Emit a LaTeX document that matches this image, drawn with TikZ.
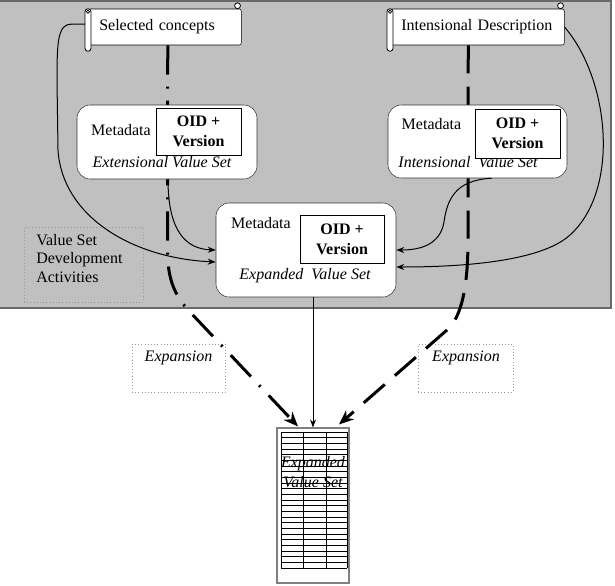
\documentclass[tikz,border=0pt]{standalone}
\usepackage{fontspec}
\setmainfont{Liberation Serif}
\usetikzlibrary{positioning, arrows.meta, calc}
\definecolor{panelgray}{RGB}{192,192,192}
\definecolor{panelline}{RGB}{105,105,105}

\begin{document}
\begin{tikzpicture}[
  x=0.75pt, y=-0.75pt,
  font=\fontsize{12}{14}\selectfont,
  scroll/.style={draw, fill=white, rounded corners=1.5pt, anchor=west,
                 minimum height=27pt, inner xsep=8.25pt, align=left},
  roll/.style={draw, fill=white, line width=0.6pt},
  mbox/.style={draw=black!80, fill=white, rounded corners=10pt,
               minimum width=135pt, minimum height=55.5pt},
  oid/.style={draw, fill=white, minimum width=63.75pt, minimum height=35.25pt,
              inner sep=0pt, align=center, font=\fontsize{12}{15}\selectfont\bfseries},
  txt/.style={inner sep=0pt},
  vsname/.style={inner sep=0pt, font=\fontsize{12}{14}\selectfont\itshape},
  note/.style={draw=gray!80, dotted, minimum width=69.75pt, minimum height=36pt},
  doc/.style={draw=gray, fill=white, line width=0.8pt,
              minimum width=54pt, minimum height=116.25pt},
  gridline/.style={line width=0.6pt},
  link/.style={-{Stealth[length=6pt, width=4.5pt]}, line width=0.75pt},
  dashdot/.style={line width=2.25pt, dash pattern=on 22pt off 9pt on 1.5pt off 9pt,
                  -{Stealth[length=11pt, width=9pt]}},
  longdash/.style={line width=2.25pt, dash pattern=on 21pt off 10pt,
                   -{Stealth[length=11pt, width=9pt]}},
]
\useasboundingbox (0,0) rectangle (615,586);

\path[fill=panelgray, draw=panelline, line width=1.5pt] (-5,1) rectangle (611,308);

\node[note, minimum width=89.25pt, minimum height=56.25pt] (vsdev) at (83.5,264.5) {};
\node[txt, align=left, anchor=west] (vsdevtxt) at (36,258.5)
    {Value Set\\Development\\Activities};

\node[note] (expL) at (178.5,368) {};
\node[vsname] (expLtxt) at (178.5,358) {Expansion};
\node[note, minimum width=71.25pt] (expR) at (465.5,368) {};
\node[vsname] (expRtxt) at (466,358) {Expansion};

\node[doc] (tbl) at (313,505.5) {};
\foreach \r in {0,...,24}
  \draw[gridline] (281,{432+\r*17/3}) -- (347,{432+\r*17/3});
\foreach \c in {281,303,326,347}
  \draw[gridline] (\c,432) -- (\c,568);
\node[vsname, align=center, font=\fontsize{12}{15}\selectfont\itshape] (tbltxt)
    at (313,472) {Expanded\\Value Set};

\node[scroll, text width=98.25pt] (sel) at (88,27) {Selected concepts};
\node[scroll, text width=114pt] (intdesc) at (390,27) {Intensional Description};
\foreach \nd in {sel,intdesc} {
  \draw[roll, rounded corners=2.2pt] ($(\nd.north west)+(-3,0)$) rectangle ($(\nd.south west)+(3,6)$);
  \draw[roll] ($(\nd.north west)+(0,3)$) circle[radius=1.2pt];
  \draw[roll] ($(\nd.north east)+(-4,-3)$) circle[radius=2.2pt];
}

\coordinate (tinL) at ($(tbl.north)+(-15,-1)$);
\coordinate (tinR) at ($(tbl.north)+(26,-3)$);

\draw[dashdot] ($(sel.south)+(3,0)$) -- (167.5,250)
    .. controls (167.5,280) and (175,296) .. (190,312) -- (tinL);
\draw[longdash] ($(intdesc.south)+(-9,0)$) -- (468,240)
    .. controls (468,285) and (462,317) .. (447,330) -- (tinR);

\node[mbox] (extvs) at (167,142) {};
\node[txt] (extmeta) at (121,130) {Metadata};
\node[vsname] (extname) at (162,162) {Extensional Value Set};
\node[oid] (extoid) at (198.5,131.5) {OID +\\Version};

\node[mbox, minimum width=134.25pt, minimum height=54.75pt] (intvs) at (477.5,141.5) {};
\node[txt] (intmeta) at (431.5,124) {Metadata};
\node[vsname] (intname) at (468,162) {Intensional\ \ Value Set};
\node[oid, minimum height=36.75pt] (intoid) at (517.5,133.5) {OID +\\Version};

\node[mbox, minimum height=70.5pt] (expvs) at (306,250) {};
\node[txt] (expmeta) at (261,223) {Metadata};
\node[vsname] (expname) at (305,276) {Expanded\ \ Value Set};
\node[oid, minimum width=63pt, minimum height=36pt] (expoid) at (342,239) {OID +\\Version};

\draw[link] ($(sel.west)+(-3,-3)$) -- (72,24) .. controls (58,24) and (57,40) .. (57,80)
    -- (58,150) .. controls (62,215) and (130,258) .. ($(expvs.west)+(0,12)$);
\draw[link] ($(extvs.south)+(1,0)$) .. controls (168,230) and (185,249) .. (expvs.west);
\draw[link] ($(intvs.south)+(14,0)$) .. controls (455,180) and (447,200) .. (444,222)
    .. controls (440,245) and (420,250) .. (expvs.east);
\draw[link] (intdesc.east) .. controls (610,80) and (620,190) .. (570,235)
    .. controls (545,258) and (480,267) .. ($(expvs.east)+(0,17)$);
\draw[link] (expvs.south -| tbl.north) -- (tbl.north);

\end{tikzpicture}
\end{document}
